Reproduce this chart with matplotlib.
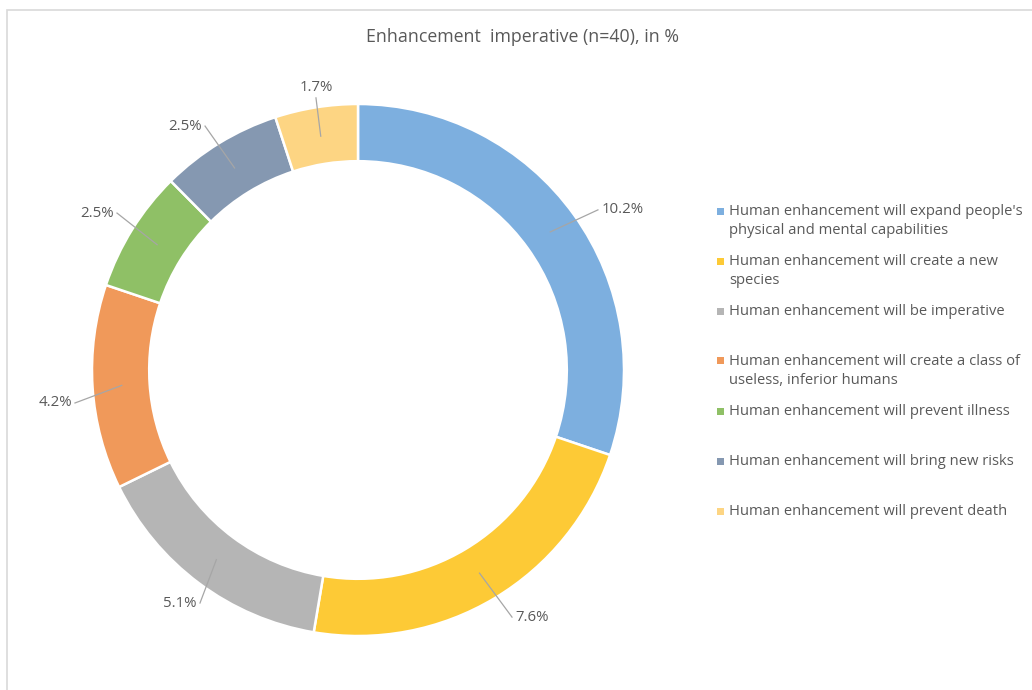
import numpy as np
import matplotlib.pyplot as plt
from matplotlib.patches import Rectangle

plt.rcParams['font.family'] = ['Open Sans', 'DejaVu Sans']

title = 'Enhancement  imperative (n=40), in %'
labels = [
    "Human enhancement will expand people's\nphysical and mental capabilities",
    "Human enhancement will create a new\nspecies",
    "Human enhancement will be imperative",
    "Human enhancement will create a class of\nuseless, inferior humans",
    "Human enhancement will prevent illness",
    "Human enhancement will bring new risks",
    "Human enhancement will prevent death",
]
values = [10.2, 7.6, 5.1, 4.2, 2.5, 2.5, 1.7]
colors = ['#7dafdf', '#fdca36', '#b5b5b5', '#f0995a', '#8fc066', '#8598b1', '#fdd583']

# where each value label sits (data coords), and its alignment
label_pos = [(0.902, 0.602), (0.579, -0.929), (-0.594, -0.876), (-1.064, -0.124),
             (-0.906, 0.590), (-0.575, 0.917), (-0.158, 1.023)]
label_ha = ['left', 'left', 'right', 'right', 'right', 'right', 'center']
label_va = ['center', 'center', 'center', 'center', 'center', 'center', 'bottom']

W, H = 1032, 690
fig = plt.figure(figsize=(W / 100, H / 100), dpi=100)
fig.patches.append(Rectangle((7 / W, -0.1), 1.2, (H - 10) / H + 0.1, transform=fig.transFigure,
                             fill=False, edgecolor='#d9d9d9', linewidth=1.2))

cx, cy, R = 358, 320, 266
ax = fig.add_axes([(cx - R) / W, (cy - R) / H, 2 * R / W, 2 * R / H])
wedges, _ = ax.pie(values, colors=colors, startangle=90, counterclock=False, radius=1.0,
                   wedgeprops=dict(width=0.215, edgecolor='white', linewidth=1.8))
ax.set_xlim(-1, 1)
ax.set_ylim(-1, 1)
ax.axis('off')

for w, v, pos, ha, va in zip(wedges, values, label_pos, label_ha, label_va):
    ang = np.deg2rad((w.theta1 + w.theta2) / 2)
    r = 0.89
    start = (r * np.cos(ang), r * np.sin(ang))
    ax.plot([start[0], pos[0]], [start[1], pos[1]], color='#a6a6a6', lw=0.9, clip_on=False)
    off = {'left': 0.012, 'right': -0.012, 'center': 0}[ha]
    ax.text(pos[0] + off, pos[1] + (0.01 if va == 'bottom' else 0), '%.1f%%' % v,
            ha=ha, va=va, fontsize=10.8, color='#595959')

fig.text(523 / W, 1 - 37 / H, title, ha='center', va='center', fontsize=12.8, color='#595959')

# legend drawn by hand to keep the even row spacing
for i, (lab, c) in enumerate(zip(labels, colors)):
    y = 211 + 50 * i
    fig.patches.append(Rectangle((717 / W, 1 - (y + 3.5) / H), 7 / W, 7 / H,
                                 transform=fig.transFigure, facecolor=c, edgecolor='none'))
    fig.text(729 / W, 1 - (y - 7) / H, lab, ha='left', va='top', fontsize=10.6,
             color='#595959', linespacing=1.35)

fig.savefig('out.png', dpi=100, facecolor='white')
